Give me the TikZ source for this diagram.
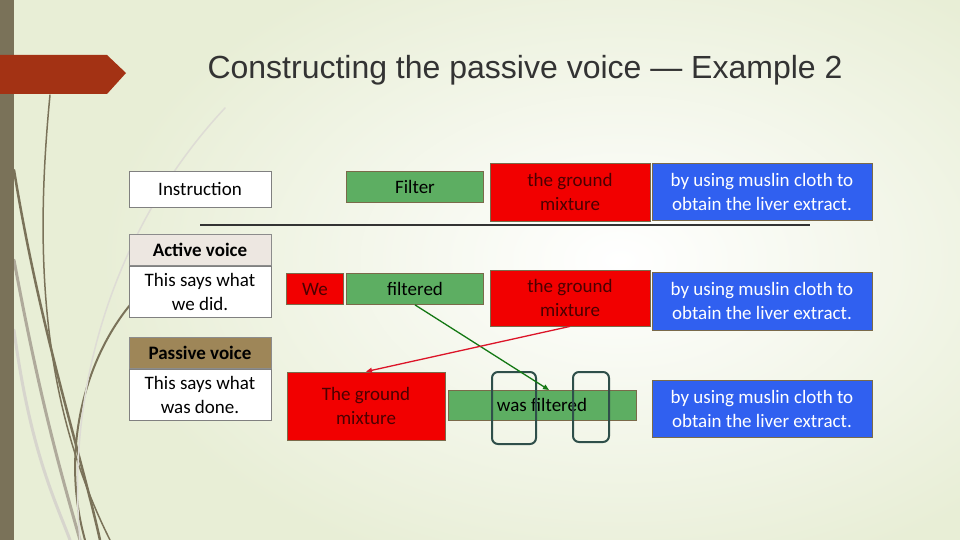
\documentclass[tikz,border=0pt]{standalone}
\usepackage{fontspec}
\setmainfont{Carlito}
\newfontfamily\titlefont{Liberation Sans}
\usetikzlibrary{arrows.meta}
\definecolor{gbox}{HTML}{5DAE62}
\definecolor{rbox}{HTML}{F20000}
\definecolor{bbox}{HTML}{3060F0}
\definecolor{bord}{HTML}{7A6A4A}
\definecolor{olive}{HTML}{7A7259}
\definecolor{rust}{HTML}{A33214}
\definecolor{slate}{HTML}{2F4F4A}
\begin{document}
\begin{tikzpicture}[x=1pt,y=-1pt,
  box/.style={draw=bord,line width=0.8pt,minimum width=#1,inner sep=1pt,align=center,font=\fontsize{19}{24}\selectfont},
  g/.style={box=#1,fill=gbox},
  r/.style={box=#1,fill=rbox,text=black!70!red},
  b/.style={box=#1,fill=bbox,text=white},
  w/.style={box=#1,fill=white,draw=black!50},
  ring/.style={draw=slate,line width=2pt,rounded corners=6pt}]
\useasboundingbox (0,0) rectangle (960,540);
\fill[color={rgb,255:red,232;green,238;blue,214}] (0,0) rectangle (960,540);
\shade[inner color=white,outer color={rgb,255:red,232;green,238;blue,214}] (620,260) ellipse (520 and 330);
% decorative curves
\begin{scope}[line cap=round]
\draw[olive,line width=1.5pt] (50,95) .. controls (35,250) and (40,400) .. (110,540);
\draw[olive,line width=2.5pt] (14,170) .. controls (40,330) and (80,450) .. (100,540);
\draw[olive!60,line width=3pt] (14,260) .. controls (40,400) and (60,470) .. (80,540);
\draw[olive!30,line width=3pt] (14,330) .. controls (30,450) and (55,500) .. (70,540);
\draw[olive,line width=2pt] (130,305) .. controls (85,360) and (60,450) .. (85,540);
\draw[olive!25,line width=1.5pt] (225,108) .. controls (120,220) and (65,380) .. (80,540);
\end{scope}
\fill[olive] (0,0) rectangle (14,540);
\fill[rust] (0,55) -- (107,55) -- (126,73) -- (107,94) -- (0,94) -- cycle;
\node[font=\titlefont\fontsize{32}{36}\selectfont,text=black!80] (title) at (525,70) {Constructing the passive voice — Example 2};
% left column
\node[w=142pt,minimum height=36pt] (instr) at (200,189) {Instruction};
\node[box=142pt,fill={rgb,255:red,237;green,231;blue,225},draw=black!45,minimum height=31pt,font=\bfseries\fontsize{19}{24}\selectfont] (act) at (200,250) {Active voice};
\node[w=142pt,minimum height=51pt,anchor=north] (actb) at (act.south) {This says what\\we did.};
\node[box=142pt,fill={rgb,255:red,158;green,134;blue,88},draw=black!45,minimum height=31pt,font=\bfseries\fontsize{19}{24}\selectfont] (pas) at (200,353) {Passive voice};
\node[w=142pt,minimum height=51pt,anchor=north] (pasb) at (pas.south) {This says what\\was done.};
% row 1
\node[g=137pt,minimum height=31pt] (filter) at (415,187) {Filter};
\node[r=160pt,minimum height=58pt] (gm1) at (570,192) {the ground\\mixture};
\node[b=220pt,minimum height=57pt] (u1) at (762,192) {by using muslin cloth to\\obtain the liver extract.};
\coordinate (la) at (200,225); \coordinate (lb) at (810,225);
\draw[black!80,line width=1.5pt] (la) -- (lb);
% row 2
\node[r=57pt,minimum height=31pt] (we) at (315,289) {We};
\node[g=137pt,minimum height=31pt] (filt) at (415,289) {filtered};
\node[r=160pt,minimum height=56pt] (gm2) at (570,298) {the ground\\mixture};
\node[b=220pt,minimum height=58pt] (u2) at (762,301) {by using muslin cloth to\\obtain the liver extract.};
% row 3
\node[r=158pt,minimum height=68pt] (gm3) at (366,406) {The ground\\mixture};
\node[g=188pt,minimum height=30pt] (wf) at (542,405) {was filtered};
\node[b=220pt,minimum height=57pt] (u3) at (762,409) {by using muslin cloth to\\obtain the liver extract.};
\node[ring,minimum width=44pt,minimum height=72pt] (ring1) at (514,408) {};
\node[ring,minimum width=36pt,minimum height=70pt] (ring2) at (591,407) {};
% arrows
\coordinate (gend) at (549,390);
\draw[-{Triangle[length=6pt,width=5pt]},color={rgb,255:red,20;green,120;blue,20},line width=1.3pt] (filt.south) -- (gend);
\draw[-{Triangle[length=6pt,width=5pt]},color={rgb,255:red,220;green,20;blue,40},line width=1.3pt] (gm2.south) -- (gm3.north);
\end{tikzpicture}
\end{document}
